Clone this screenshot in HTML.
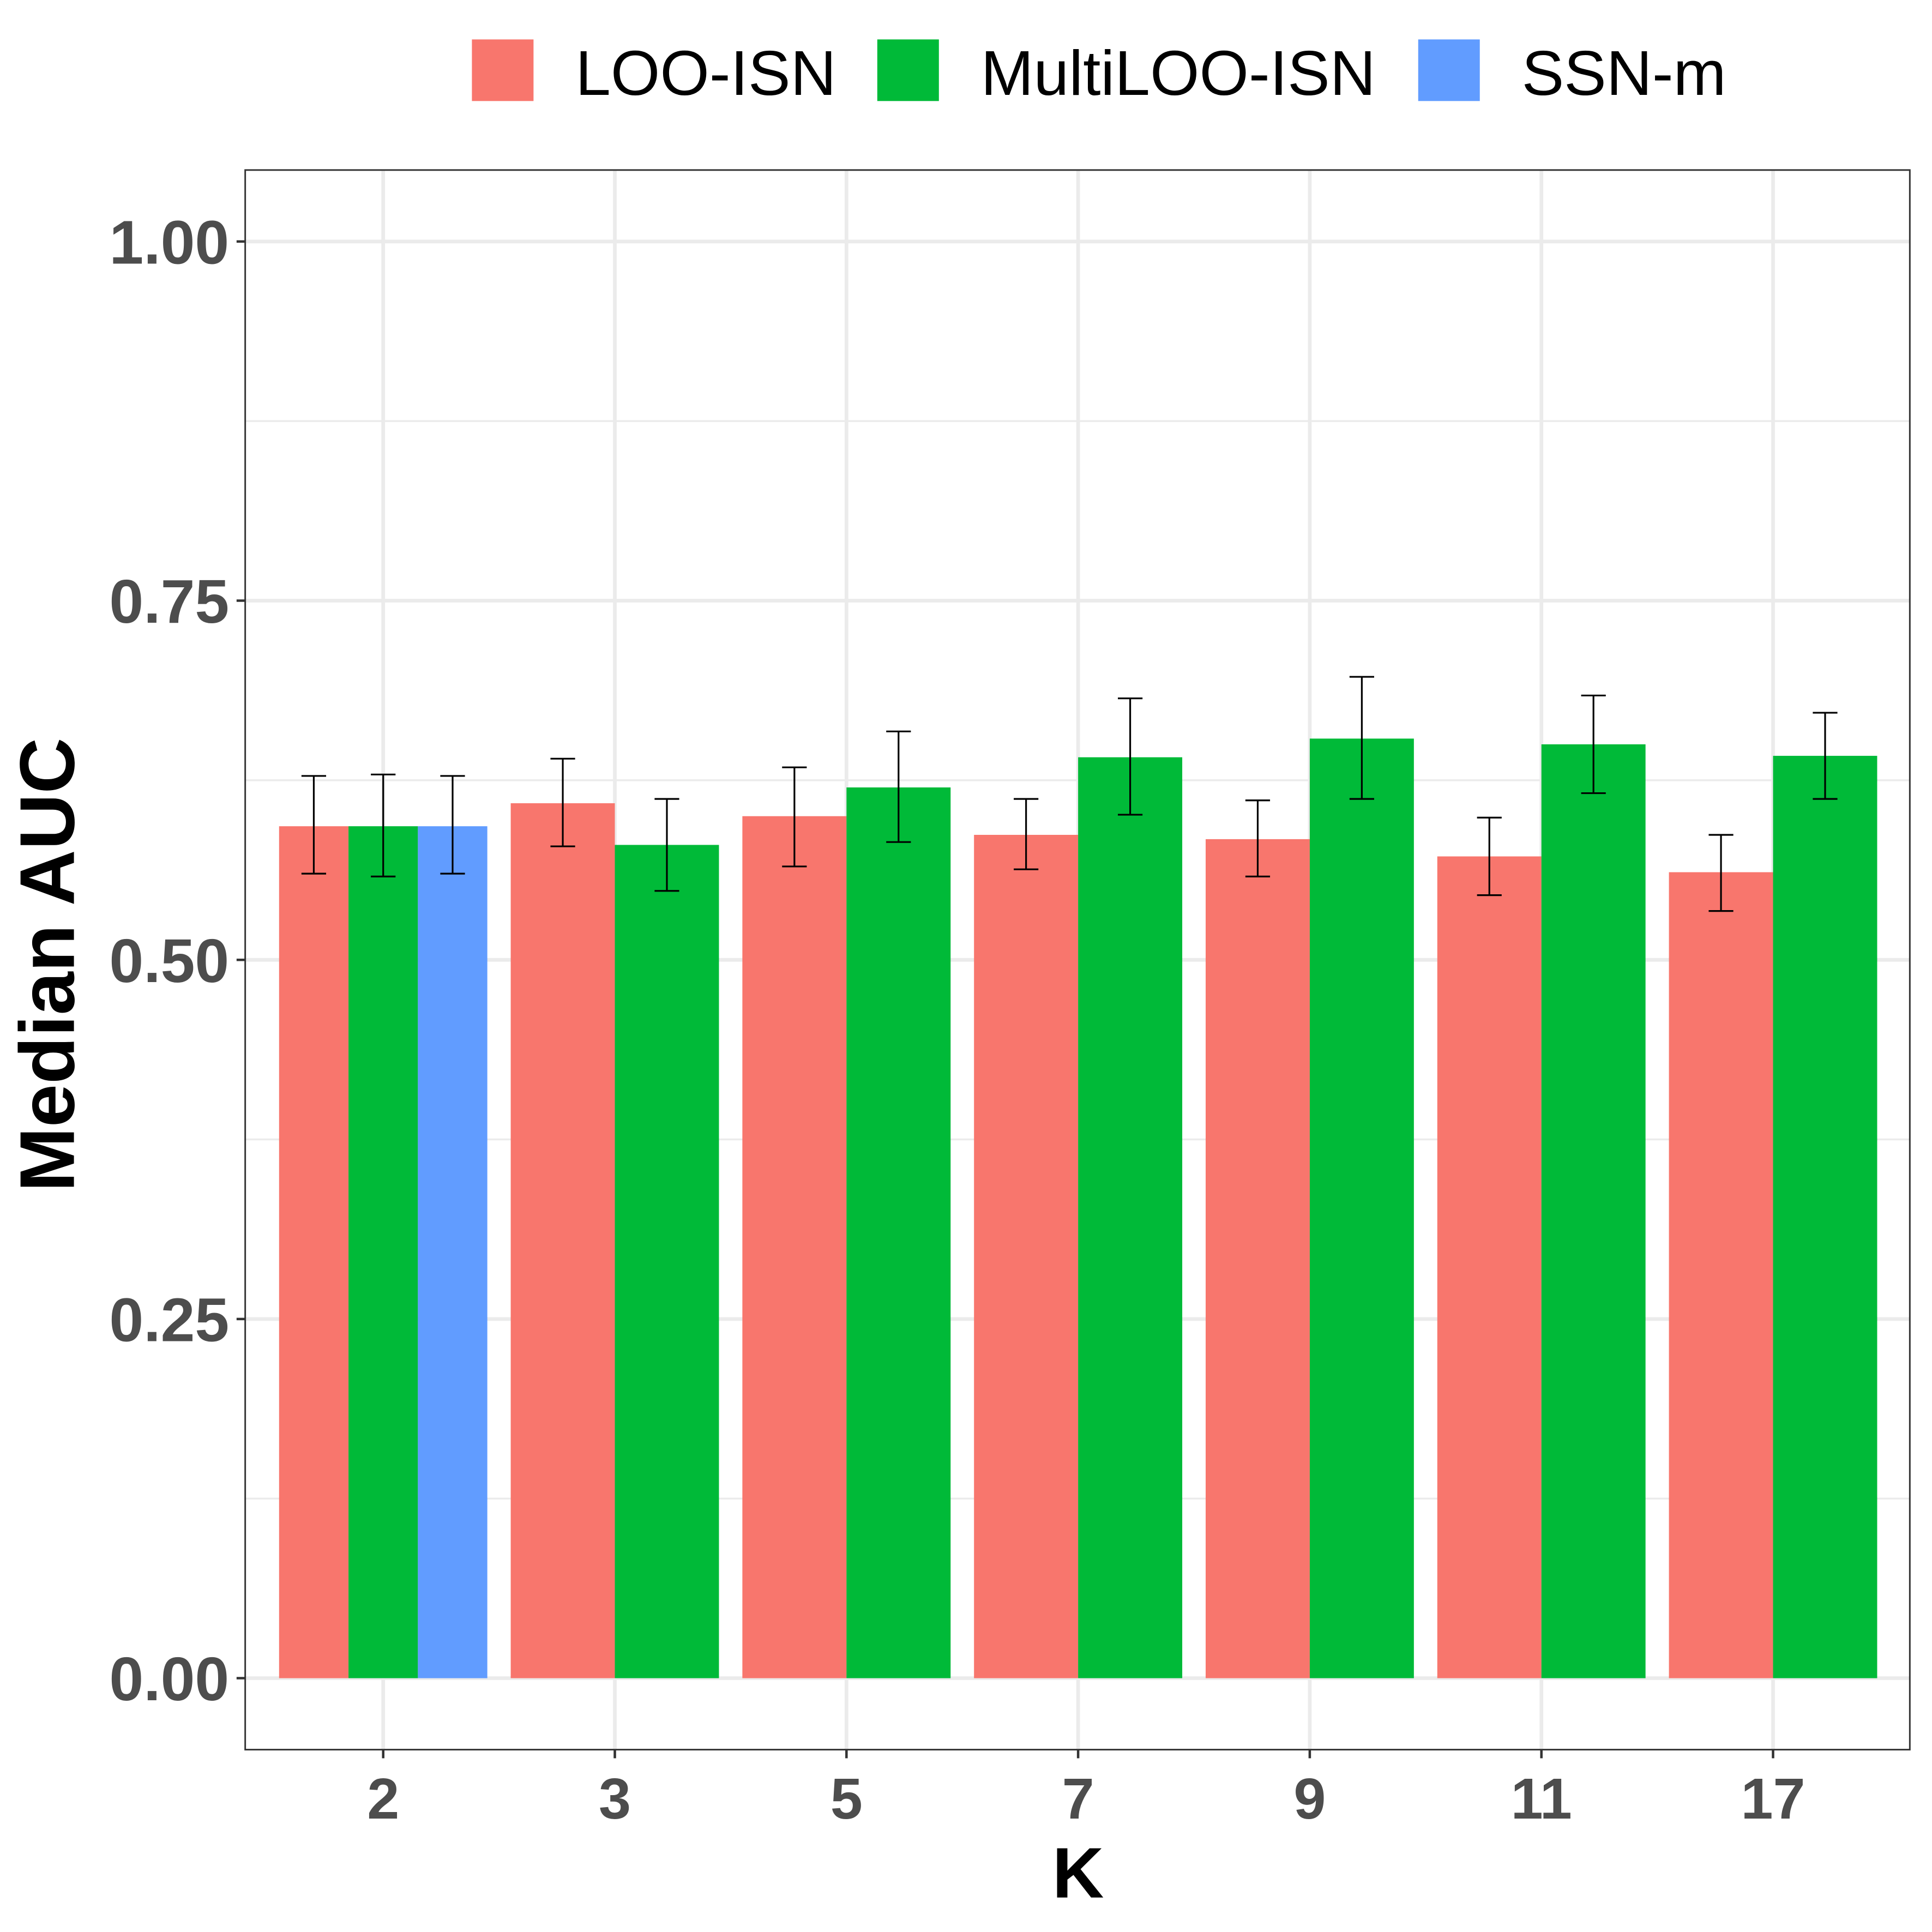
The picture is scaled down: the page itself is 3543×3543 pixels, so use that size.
<!DOCTYPE html>
<html><head><meta charset="utf-8"><style>html,body{margin:0;padding:0;background:#fff}svg{display:block}</style></head>
<body>
<svg id="chart" xmlns="http://www.w3.org/2000/svg" width="3543" height="3543" viewBox="0 0 1568 1568" font-family="Liberation Sans, Arial, sans-serif">
<rect x="0" y="0" width="1568" height="1568" fill="#fff"/>
<g id="grid"></g>
<g id="bars"></g>
<g id="errs"></g>
<rect x="199" y="138" width="1351" height="1282" fill="none" stroke="#333" stroke-width="1.3"/>
<g id="axes"></g>
<text x="875" y="1540" font-size="58" font-weight="bold" text-anchor="middle">K</text>
<text transform="translate(60,783) rotate(-90)" font-size="63" font-weight="bold" text-anchor="middle">Median AUC</text>
<g>
<rect x="383" y="32" width="50" height="50" fill="#F8766D"/>
<text x="467" y="77" font-size="51.5">LOO-ISN</text>
<rect x="712" y="32" width="50" height="50" fill="#00BA38"/>
<text x="796" y="77" font-size="51.5">MultiLOO-ISN</text>
<rect x="1151" y="32" width="50" height="50" fill="#619CFF"/>
<text x="1235" y="77" font-size="51.5">SSN-m</text>
</g>
</svg>
<script>
const categories = ["2","3","5","7","9","11","17"];
const seriesNames = ["LOO-ISN","MultiLOO-ISN","SSN-m"];
const looVals = [0.593,0.609,0.600,0.587,0.584,0.572,0.561];
const looLo   = [0.560,0.579,0.565,0.563,0.558,0.545,0.534];
const looHi   = [0.628,0.640,0.634,0.612,0.611,0.599,0.587];
const multiVals = [0.593,0.580,0.620,0.641,0.654,0.650,0.642];
const multiLo   = [0.558,0.548,0.582,0.601,0.612,0.616,0.612];
const multiHi   = [0.629,0.612,0.659,0.682,0.697,0.684,0.672];
const ssnVals = [0.593,null,null,null,null,null,null];
const ssnLo   = [0.560,null,null,null,null,null,null];
const ssnHi   = [0.628,null,null,null,null,null,null];
const yTicks = [0,0.25,0.5,0.75,1];
const yTickLabels = ["0.00","0.25","0.50","0.75","1.00"];
const yMinor = [0.125,0.375,0.625,0.875];

const NS="http://www.w3.org/2000/svg";
const L=199,R=1550,T=138,B=1420;
const y=v=>1362-v*1166;
const step=188, x0=311;
const xc=i=>x0+i*step;
const colors=["#F8766D","#00BA38","#619CFF"];
function mk(tag,attrs,parent){const e=document.createElementNS(NS,tag);for(const k in attrs)e.setAttribute(k,attrs[k]);document.getElementById(parent).appendChild(e);return e;}
yMinor.forEach(v=>{const e=mk('line',{x1:L,x2:R,y1:y(v),y2:y(v),stroke:'#ebebeb','stroke-width':1.5},'grid');

});
yTicks.forEach((v,i)=>{const e=mk('line',{x1:L,x2:R,y1:y(v),y2:y(v),stroke:'#ebebeb','stroke-width':3},'grid');


const t=mk('line',{x1:L-7,x2:L,y1:y(v),y2:y(v),stroke:'#333','stroke-width':2},'axes');


const l=mk('text',{x:L-13,y:y(v)+18,'font-size':50,'font-weight':'bold',fill:'#4d4d4d','text-anchor':'end'},'axes');
l.textContent=yTickLabels[i];

});
categories.forEach((c,i)=>{const e=mk('line',{x1:xc(i),x2:xc(i),y1:T,y2:B,stroke:'#ebebeb','stroke-width':3},'grid');


const t=mk('line',{x1:xc(i),x2:xc(i),y1:B,y2:B+7,stroke:'#333','stroke-width':2},'axes');


const l=mk('text',{x:xc(i),y:B+56,'font-size':47,'font-weight':'bold',fill:'#4d4d4d','text-anchor':'middle'},'axes');
l.textContent=c;


const series=[[looVals,looLo,looHi],[multiVals,multiLo,multiHi],[ssnVals,ssnLo,ssnHi]].filter(s=>s[0][i]!=null);
const gw=169, bw=gw/series.length;
series.forEach((s,j)=>{const si=[looVals,multiVals,ssnVals].indexOf(s[0]);
const bx=xc(i)-gw/2+j*bw;
const b=mk('rect',{x:bx,y:y(s[0][i]),width:bw,height:y(0)-y(s[0][i]),fill:colors[si]},'bars');


const cx=bx+bw/2, hw=10;
const p=mk('path',{d:`M${cx-hw},${y(s[2][i])}H${cx+hw}M${cx},${y(s[2][i])}V${y(s[1][i])}M${cx-hw},${y(s[1][i])}H${cx+hw}`,stroke:'#000','stroke-width':1.4,fill:'none'},'errs');

});});
</script>
</body></html>
